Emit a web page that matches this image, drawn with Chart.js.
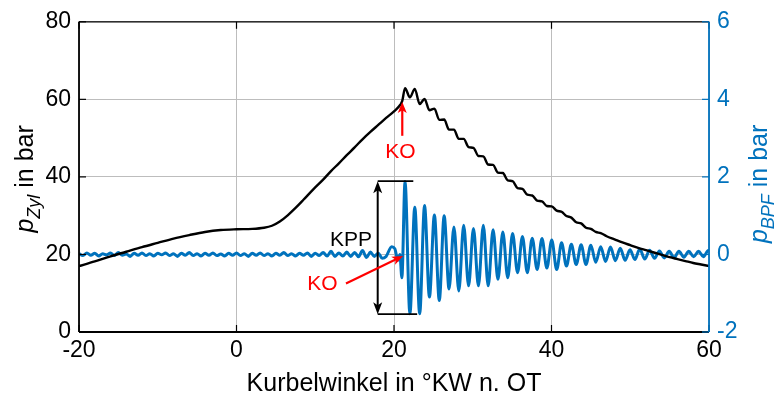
<!DOCTYPE html>
<html>
<head>
<meta charset="utf-8">
<script src="https://cdn.jsdelivr.net/npm/chart.js@4/dist/chart.umd.min.js"></script>
<style>
  html, body { margin: 0; padding: 0; background: #fff; }
  #wrap { width: 779px; height: 402px; }
</style>
</head>
<body>
<div id="wrap"><canvas id="chart-druck" width="779" height="402"></canvas></div>
<script>
// Achsenteilung
const X_TICKS   = [-20, 0, 20, 40, 60];
const P_TICKS   = [0, 20, 40, 60, 80];
const BPF_TICKS = [-2, 0, 2, 4, 6];

// Zylinderdruck p_Zyl (bar) über Kurbelwinkel (°KW n. OT)
const pressureAngle = [
  -20, -18, -16, -14, -12, -10, -8, -6, -4, -2, 0, 2, 3.5, 4.5, 5.5, 6.5, 7.5, 8.5, 9.75,
  11, 12, 13, 14, 15, 16, 17, 18, 19, 20, 20.8, 21.05, 21.4,
  22.02, 22.64, 23.26, 23.88, 24.5, 25.13, 25.75, 26.37, 26.99, 27.61, 28.23, 28.85,
  29.47, 30.09, 30.72, 31.34, 31.96, 32.58, 33.2, 33.82, 34.44, 35.06, 35.69, 36.31,
  36.93, 37.55, 38.17, 38.79, 39.41, 40.03, 40.66, 41.28, 41.9, 42.52, 43.14, 43.76,
  44.38, 45.0, 45.62, 46.25, 47, 48, 49, 50, 51, 52, 53, 54, 55, 56, 57, 58, 59, 60
];
const pressureValue = [
  17.0, 18.2, 19.5, 20.7, 21.9, 23.0, 24.1, 25.0, 25.8, 26.3, 26.5, 26.6, 26.9, 27.4, 28.5, 30.1, 32.0, 34.1, 36.8,
  39.3, 41.5, 43.5, 45.6, 47.6, 49.7, 51.6, 53.4, 55.2, 56.9, 58.6, 59.6, 62.9,
  60.5, 62.7, 58.8, 60.1, 57.2, 57.6, 54.7, 54.8, 52.2, 52.2, 49.8, 49.8,
  47.7, 47.5, 45.4, 45.3, 43.2, 43.1, 41.1, 41.0, 39.1, 38.9, 37.1, 36.9,
  35.4, 35.2, 33.9, 33.7, 32.5, 32.4, 31.3, 31.0, 29.9, 29.5, 28.3, 28.0,
  26.9, 26.6, 25.8, 25.5, 24.7, 23.9, 23.1, 22.4, 21.7, 21.1, 20.5, 19.9, 19.3, 18.8, 18.3, 17.8, 17.4, 17.0
];

// Bandpassgefilterter Druck p_BPF (bar)
const bpfAngle = [
  -20, -19.5, -19, -18.5, -18, -17.5, -17, -16.5, -16, -15.5, -15, -14.5, -14, -13.5, -13, -12.5,
  -12, -11.5, -11, -10.5, -10, -9.5, -9, -8.5, -8, -7.5, -7, -6.5, -6, -5.5, -5, -4.5,
  -4, -3.5, -3, -2.5, -2, -1.5, -1, -0.5, 0, 0.5, 1, 1.5, 2, 2.5, 3, 3.5,
  4, 4.5, 5, 5.5, 6, 6.5, 7, 7.5, 8, 8.5, 9, 9.5, 10, 10.5, 11, 11.5,
  12, 12.5, 13, 13.5, 14, 14.5, 15, 15.5, 16, 16.5, 17, 17.5, 18, 18.5, 19, 19.7,
  20.1, 20.5, 20.75, 21.0, 21.4,
  22.02, 22.64, 23.26, 23.88, 24.5, 25.13, 25.75, 26.37, 26.99, 27.61, 28.23, 28.85,
  29.47, 30.09, 30.72, 31.34, 31.96, 32.58, 33.2, 33.82, 34.44, 35.06, 35.69, 36.31,
  36.93, 37.55, 38.17, 38.79, 39.41, 40.03, 40.66, 41.28, 41.9, 42.52, 43.14, 43.76,
  44.38, 45.0, 45.62, 46.25, 46.87, 47.49, 48.11, 48.73, 49.35, 49.97, 50.59, 51.21,
  51.84, 52.46, 53.08, 53.7, 54.32, 54.94, 55.56, 56.18, 56.81, 57.43, 58.05, 58.67,
  59.29, 59.91, 60
];
const bpfValue = [
  0.02, -0.03, 0.04, -0.02, 0.03, -0.04, 0.02, -0.01, 0.04, -0.03, 0.05, -0.02, 0.01, -0.05, 0.03, -0.02,
  0.04, -0.03, 0.02, -0.04, 0.03, -0.01, 0.04, -0.03, 0.02, -0.05, 0.03, -0.02, 0.05, -0.03, 0.02, -0.04,
  0.03, -0.02, 0.04, -0.03, 0.01, -0.04, 0.03, -0.02, 0.04, -0.03, 0.02, -0.05, 0.03, -0.02, 0.04, -0.03,
  0.02, -0.04, 0.03, -0.02, 0.05, -0.03, 0.02, -0.04, 0.03, -0.02, 0.04, -0.05, 0.03, -0.03, 0.05, -0.04,
  0.08, -0.05, 0.04, -0.04, 0.06, -0.05, 0.05, -0.06, 0.10, -0.08, 0.06, -0.05, 0.03, -0.10, -0.05, 0.20,
  0.15, -0.15, 0.0, -0.60, 1.88,
  -1.53, 1.22, -1.53, 1.26, -1.10, 1.02, -1.19, 1.00, -0.89, 0.71, -0.94, 0.75,
  -0.81, 0.67, -0.81, 0.75, -0.81, 0.64, -0.64, 0.58, -0.60, 0.54, -0.47, 0.46,
  -0.47, 0.42, -0.39, 0.41, -0.35, 0.37, -0.39, 0.30, -0.30, 0.26, -0.26, 0.25,
  -0.26, 0.24, -0.20, 0.20, -0.18, 0.19, -0.16, 0.16, -0.15, 0.12, -0.13, 0.14,
  -0.12, 0.11, -0.10, 0.09, -0.09, 0.08, -0.08, 0.08, -0.07, 0.08, -0.06, 0.08,
  -0.06, 0.10, 0.08
];

const BLUE = '#0072BD';
const RED = '#FF0000';
const GRID = '#bdbdbd';
const FONT = "'Liberation Sans', Arial, Helvetica, sans-serif";

// Markierungen: Klopfbeginn (KO) und Klopfspitzendruck (KPP)
const MARKS = {
  kpp:   { x: 17.93, top: 1.89, bottom: -1.54, topEnd: 22.45, bottomEnd: 22.94, label: { x: 14.54, y: 0.38 } },
  koTop: { x: 21.05, from: 50.6, to: 59.3, label: { x: 20.8, y: 46.3 } },
  koBpf: { from: { x: 13.9, y: -0.75 }, to: { x: 21.15, y: -0.04 }, label: { x: 10.9, y: -0.77 } },
};

function toPoints(xs, ys) {
  return xs.map((x, i) => ({ x, y: ys[i] }));
}

function arrowHead(ctx, x0, y0, x1, y1, color, len, half) {
  const a = Math.atan2(y1 - y0, x1 - x0);
  const c = Math.cos(a), s = Math.sin(a);
  const bx = x1 - c * len, by = y1 - s * len;
  const nx = x1 - c * len * 0.75, ny = y1 - s * len * 0.75;
  ctx.fillStyle = color;
  ctx.beginPath();
  ctx.moveTo(x1, y1);
  ctx.lineTo(bx - s * half, by + c * half);
  ctx.lineTo(nx, ny);
  ctx.lineTo(bx + s * half, by - c * half);
  ctx.closePath();
  ctx.fill();
}

function line(ctx, x0, y0, x1, y1, color, w) {
  ctx.strokeStyle = color;
  ctx.lineWidth = w;
  ctx.beginPath();
  ctx.moveTo(x0, y0);
  ctx.lineTo(x1, y1);
  ctx.stroke();
}

// Achsbeschriftung mit tiefgestelltem Index, um 90° gedreht
function drawYTitle(ctx, bx, cy, sub, color) {
  const big = `italic 25px ${FONT}`, small = `italic 18px ${FONT}`, norm = `25px ${FONT}`;
  ctx.save();
  ctx.translate(bx, cy);
  ctx.rotate(-Math.PI / 2);
  ctx.fillStyle = color;
  ctx.textBaseline = 'alphabetic';
  ctx.textAlign = 'left';
  ctx.font = big;   const wp = ctx.measureText('p').width;
  ctx.font = small; const ws = ctx.measureText(sub).width;
  ctx.font = norm;  const wr = ctx.measureText(' in bar').width;
  let x = -(wp + ws + wr) / 2;
  ctx.font = big;   ctx.fillText('p', x, 0); x += wp;
  ctx.font = small; ctx.fillText(sub, x, 7); x += ws;
  ctx.font = norm;  ctx.fillText(' in bar', x, 0);
  ctx.restore();
}

const overlay = {
  id: 'overlay',
  afterDatasetsDraw(chart) {
    const { ctx, chartArea: a, scales: { x, y, y1 } } = chart;
    ctx.save();

    // KPP: Doppelpfeil mit Begrenzungslinien
    const k = MARKS.kpp;
    const kx = x.getPixelForValue(k.x);
    const kt = y1.getPixelForValue(k.top), kb = y1.getPixelForValue(k.bottom);
    line(ctx, kx, kt, x.getPixelForValue(k.topEnd), kt, '#000', 1.6);
    line(ctx, kx, kb, x.getPixelForValue(k.bottomEnd), kb, '#000', 1.6);
    line(ctx, kx, kt + 6, kx, kb - 6, '#000', 2);
    arrowHead(ctx, kx, kb, kx, kt, '#000', 12, 4.5);
    arrowHead(ctx, kx, kt, kx, kb, '#000', 12, 4.5);

    ctx.font = `21px ${FONT}`;
    ctx.textAlign = 'center';
    ctx.textBaseline = 'middle';
    ctx.fillStyle = '#000';
    ctx.fillText('KPP', x.getPixelForValue(k.label.x), y1.getPixelForValue(k.label.y));

    // KO im Zylinderdruck
    const t = MARKS.koTop;
    const tx = x.getPixelForValue(t.x);
    const ty0 = y.getPixelForValue(t.from), ty1 = y.getPixelForValue(t.to);
    line(ctx, tx, ty0, tx, ty1 + 6, RED, 2.2);
    arrowHead(ctx, tx, ty0, tx, ty1, RED, 11, 4.5);
    ctx.fillStyle = RED;
    ctx.fillText('KO', x.getPixelForValue(t.label.x), y.getPixelForValue(t.label.y));

    // KO im gefilterten Signal
    const b = MARKS.koBpf;
    const bx0 = x.getPixelForValue(b.from.x), by0 = y1.getPixelForValue(b.from.y);
    const bx1 = x.getPixelForValue(b.to.x),   by1 = y1.getPixelForValue(b.to.y);
    const ang = Math.atan2(by1 - by0, bx1 - bx0);
    line(ctx, bx0, by0, bx1 - Math.cos(ang) * 6, by1 - Math.sin(ang) * 6, RED, 2.2);
    arrowHead(ctx, bx0, by0, bx1, by1, RED, 11, 4.5);
    ctx.fillText('KO', x.getPixelForValue(b.label.x), y1.getPixelForValue(b.label.y));

    // Achsrahmen mit innenliegenden Teilstrichen
    const tick = 7;
    line(ctx, a.left, a.top, a.right, a.top, '#000', 1.2);
    line(ctx, a.left, a.bottom, a.right, a.bottom, '#000', 1.8);
    line(ctx, a.left, a.top, a.left, a.bottom, '#000', 1.8);
    X_TICKS.forEach(v => {
      const px = x.getPixelForValue(v);
      line(ctx, px, a.bottom, px, a.bottom - tick, '#000', 1.2);
      line(ctx, px, a.top, px, a.top + tick, '#000', 1.2);
    });
    P_TICKS.forEach(v => {
      const py = y.getPixelForValue(v);
      line(ctx, a.left, py, a.left + tick, py, '#000', 1.2);
    });
    line(ctx, a.right, a.top, a.right, a.bottom, BLUE, 1.8);
    BPF_TICKS.forEach(v => {
      const py = y1.getPixelForValue(v);
      line(ctx, a.right, py, a.right - tick, py, BLUE, 1.2);
    });
    ctx.restore();
  },
  afterDraw(chart) {
    const { ctx, chartArea: a } = chart;
    const cy = (a.top + a.bottom) / 2;
    drawYTitle(ctx, 33, cy + 2, 'Zyl', '#000');
    drawYTitle(ctx, 767, cy + 7, 'BPF', BLUE);

    ctx.save();
    ctx.font = `25px ${FONT}`;
    ctx.fillStyle = '#000';
    ctx.textAlign = 'center';
    ctx.textBaseline = 'middle';
    ctx.fillText('Kurbelwinkel in °KW n. OT', (a.left + a.right) / 2, 384);
    ctx.restore();
  }
};

const tickFont = { family: FONT, size: 23 };

new Chart(document.getElementById('chart-druck'), {
  type: 'line',
  data: {
    datasets: [
      {
        label: 'p_Zyl',
        data: toPoints(pressureAngle, pressureValue),
        yAxisID: 'y',
        borderColor: '#000',
        borderWidth: 2.4,
        cubicInterpolationMode: 'monotone',
        pointRadius: 0,
        order: 0,
      },
      {
        label: 'p_BPF',
        data: toPoints(bpfAngle, bpfValue),
        yAxisID: 'y1',
        borderColor: BLUE,
        borderWidth: 3,
        cubicInterpolationMode: 'monotone',
        pointRadius: 0,
        order: 1,
      },
    ],
  },
  options: {
    responsive: false,
    devicePixelRatio: 1,
    animation: false,
    layout: { padding: { top: 16, left: 0, right: 0, bottom: 0 } },
    plugins: { legend: { display: false }, tooltip: { enabled: false } },
    scales: {
      x: {
        type: 'linear', min: -20, max: 60,
        afterBuildTicks: s => { s.ticks = X_TICKS.map(v => ({ value: v })); },
        afterFit: s => { s.height = 70; },
        ticks: { font: tickFont, color: '#000', padding: 5, maxRotation: 0 },
        grid: { color: GRID, drawTicks: false },
        border: { display: false },
      },
      y: {
        position: 'left', min: 0, max: 80,
        afterBuildTicks: s => { s.ticks = P_TICKS.map(v => ({ value: v })); },
        afterFit: s => { s.width = 79; },
        ticks: { font: tickFont, color: '#000', padding: 8 },
        grid: { color: GRID, drawTicks: false },
        border: { display: false },
      },
      y1: {
        position: 'right', min: -2, max: 6,
        afterBuildTicks: s => { s.ticks = BPF_TICKS.map(v => ({ value: v })); },
        afterFit: s => { s.width = 70; },
        ticks: { font: tickFont, color: BLUE, padding: 8 },
        grid: { display: false, drawTicks: false },
        border: { display: false },
      },
    },
  },
  plugins: [overlay],
});
</script>
</body>
</html>
